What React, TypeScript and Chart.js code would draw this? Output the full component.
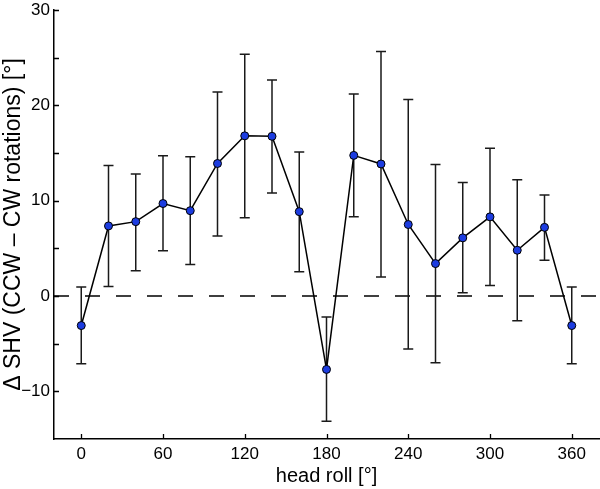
import React, { useEffect, useRef } from 'react';
import { Chart, registerables } from 'chart.js';

Chart.register(...registerables);

const headRoll = [0, 20, 40, 60, 80, 100, 120, 140, 160, 180, 200, 220, 240, 260, 280, 300, 320, 340, 360];
const meanShv = [-3.1, 7.35, 7.8, 9.7, 8.95, 13.9, 16.8, 16.75, 8.85, -7.7, 14.75, 13.85, 7.5, 3.4, 6.1, 8.3, 4.8, 7.2, -3.1];
const upperShv = [0.95, 13.7, 12.8, 14.7, 14.6, 21.4, 25.35, 22.65, 15.1, -2.2, 21.2, 25.65, 20.6, 13.8, 11.9, 15.5, 12.2, 10.6, 0.95];
const lowerShv = [-7.1, 1.0, 2.65, 4.75, 3.3, 6.3, 8.2, 10.8, 2.55, -13.15, 8.3, 2.0, -5.55, -7.0, 0.35, 1.1, -2.6, 3.75, -7.1];

const xTickValues = [0, 60, 120, 180, 240, 300, 360];
const yTickValues = [-15, -10, -5, 0, 5, 10, 15, 20, 25, 30];
const yLabelledTicks = [-10, 0, 10, 20, 30];

const xTitle = 'head roll [°]';
const yTitle = 'Δ SHV (CCW – CW rotations) [°]';

const FONT = "'Liberation Sans', Arial, Helvetica, sans-serif";

const decorPlugin = {
  id: 'decor',
  beforeDatasetsDraw(chart: any) {
    const ctx = chart.ctx;
    const xs = chart.scales.x;
    const ys = chart.scales.y;
    const area = chart.chartArea;
    ctx.save();
    // zero dashed line
    ctx.strokeStyle = '#000';
    ctx.lineWidth = 1.3;
    ctx.setLineDash([15, 16]);
    const y0 = ys.getPixelForValue(0);
    ctx.beginPath();
    ctx.moveTo(area.left, y0);
    ctx.lineTo(area.right, y0);
    ctx.stroke();
    ctx.setLineDash([]);
    // error bars
    ctx.strokeStyle = '#1a1a1a';
    ctx.lineWidth = 1.5;
    const cap = 5;
    headRoll.forEach((hx, i) => {
      const px = xs.getPixelForValue(hx);
      const pu = ys.getPixelForValue(upperShv[i]);
      const pl = ys.getPixelForValue(lowerShv[i]);
      ctx.beginPath();
      ctx.moveTo(px, pu);
      ctx.lineTo(px, pl);
      ctx.moveTo(px - cap, pu);
      ctx.lineTo(px + cap, pu);
      ctx.moveTo(px - cap, pl);
      ctx.lineTo(px + cap, pl);
      ctx.stroke();
    });
    ctx.restore();
  },
  afterDraw(chart: any) {
    const ctx = chart.ctx;
    const xs = chart.scales.x;
    const ys = chart.scales.y;
    const area = chart.chartArea;
    ctx.save();
    ctx.strokeStyle = '#000';
    ctx.lineWidth = 1.3;
    const tl = 5;
    ctx.beginPath();
    xTickValues.forEach((v) => {
      const px = Math.round(xs.getPixelForValue(v)) + 0.5;
      ctx.moveTo(px, area.bottom);
      ctx.lineTo(px, area.bottom - tl);
    });
    yTickValues.forEach((v) => {
      if (v === -15) return;
      const py = Math.round(ys.getPixelForValue(v)) + 0.5;
      ctx.moveTo(area.left, py);
      ctx.lineTo(area.left + tl, py);
    });
    ctx.stroke();
    ctx.restore();
  },
};

export default function App() {
  const canvasRef = useRef<HTMLCanvasElement | null>(null);

  useEffect(() => {
    document.body.style.margin = '0';
    const canvas = canvasRef.current;
    if (!canvas) return;
    const chart = new Chart(canvas, {
      type: 'line',
      data: {
        datasets: [
          {
            data: headRoll.map((x, i) => ({ x, y: meanShv[i] })),
            borderColor: '#000',
            borderWidth: 1.5,
            pointRadius: 4,
            pointBackgroundColor: '#1c3ce0',
            pointBorderColor: '#000',
            pointBorderWidth: 1,
            tension: 0,
            fill: false,
            clip: false,
          },
        ],
      },
      options: {
        animation: false,
        responsive: false,
        events: [],
        layout: { autoPadding: false, padding: { top: 10, right: 1, left: 0, bottom: 0 } },
        plugins: {
          legend: { display: false },
          tooltip: { enabled: false },
        },
        scales: {
          x: {
            type: 'linear',
            min: -20,
            max: 380,
            afterBuildTicks: (scale: any) => {
              scale.ticks = xTickValues.map((v) => ({ value: v }));
            },
            afterFit: (scale: any) => {
              scale.height = 50;
              scale.paddingLeft = 0;
              scale.paddingRight = 0;
            },
            grid: { display: false, drawTicks: false },
            border: { display: true, color: '#000', width: 1.5 },
            ticks: {
              padding: 5,
              color: '#000',
              font: { family: FONT, size: 17 },
              maxRotation: 0,
              autoSkip: false,
            },
            title: {
              display: true,
              text: xTitle,
              color: '#000',
              font: { family: FONT, size: 20 },
              padding: { top: 0, bottom: 1 },
            },
          },
          y: {
            type: 'linear',
            min: -15,
            max: 30,
            afterBuildTicks: (scale: any) => {
              scale.ticks = yTickValues.map((v) => ({ value: v }));
            },
            afterFit: (scale: any) => {
              scale.width = 54;
              scale.paddingTop = 0;
              scale.paddingBottom = 0;
            },
            grid: { display: false, drawTicks: false },
            border: { display: true, color: '#000', width: 1.5 },
            ticks: {
              padding: 4,
              color: '#000',
              font: { family: FONT, size: 17 },
              autoSkip: false,
              callback: (v: any) => {
                const n = Number(v);
                if (!yLabelledTicks.includes(n)) return '';
                return n < 0 ? '−' + Math.abs(n) : String(n);
              },
            },
            title: {
              display: true,
              text: yTitle,
              color: '#000',
              font: { family: FONT, size: 23 },
              padding: { top: 0, bottom: 0 },
            },
          },
        },
      },
      plugins: [decorPlugin],
    });
    return () => chart.destroy();
  }, []);

  return (
    <div style={{ width: 600, height: 489, background: '#fff' }}>
      <canvas ref={canvasRef} width={600} height={489} style={{ display: 'block' }} />
    </div>
  );
}
